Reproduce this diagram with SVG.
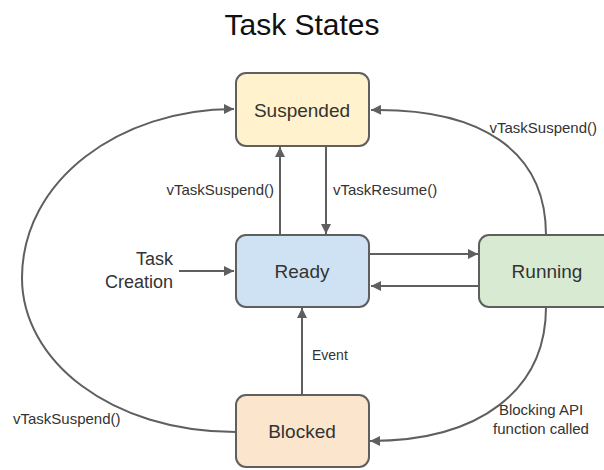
<svg xmlns="http://www.w3.org/2000/svg" width="604" height="470" viewBox="0 0 604 470">
<style>
.box{stroke:#5f5f5f;stroke-width:2}
.nt{font-family:"Liberation Sans",Arial,sans-serif;font-size:19px;fill:#333;text-anchor:middle}
.lb{font-family:"Liberation Sans",Arial,sans-serif;font-size:15px;fill:#333}
.big{font-size:18px}
.sm{font-size:14px}
.edge{fill:none;stroke:#5f5f5f;stroke-width:2}
</style>
<defs>
<marker id="ah" viewBox="0 0 10 10" refX="10" refY="5" markerWidth="11" markerHeight="10" markerUnits="userSpaceOnUse" orient="auto">
<path d="M0,0 L10,5 L0,10 z" fill="#5f5f5f"/>
</marker>
</defs>
<rect width="604" height="470" fill="#fff"/>
<text x="302" y="35" font-family="'Liberation Sans',Arial,sans-serif" font-size="30" fill="#111" text-anchor="middle">Task States</text>
<g id="connectors">
<path class="edge" d="M280,235 V147" marker-end="url(#ah)"/>
<path class="edge" d="M326,146 V234" marker-end="url(#ah)"/>
<path class="edge" d="M179,271 H234" marker-end="url(#ah)"/>
<path class="edge" d="M370,254 H478" marker-end="url(#ah)"/>
<path class="edge" d="M479,286 H371" marker-end="url(#ah)"/>
<path class="edge" d="M302,395 V308" marker-end="url(#ah)"/>
<path class="edge" d="M236,432 C110,432 22,360 22,278 C22,180 120,109 234,109" marker-end="url(#ah)"/>
<path class="edge" d="M546,235 C546,150 480,108 371,110" marker-end="url(#ah)"/>
<path class="edge" d="M546,307 C546,390 480,441 370,441" marker-end="url(#ah)"/>
<text class="lb" x="274" y="195" text-anchor="end">vTaskSuspend()</text>
<text class="lb" x="333" y="195">vTaskResume()</text>
<text class="lb" x="597" y="133" text-anchor="end">vTaskSuspend()</text>
<text class="lb" x="13" y="424">vTaskSuspend()</text>
<text class="lb sm" x="312" y="360">Event</text>
<text class="lb" x="541" y="415" text-anchor="middle">Blocking API</text>
<text class="lb" x="541" y="434" text-anchor="middle">function called</text>
<text class="lb big" x="173" y="265" text-anchor="end">Task</text>
<text class="lb big" x="173" y="288" text-anchor="end">Creation</text>
</g>
<g id="suspended">
<rect class="box" x="236" y="73" width="133" height="73" rx="10" fill="#fff2cc"/>
<text class="nt" x="302" y="117">Suspended</text>
</g>
<g id="ready">
<rect class="box" x="236" y="235" width="133" height="72" rx="10" fill="#cfe2f3"/>
<text class="nt" x="302" y="278">Ready</text>
</g>
<g id="running">
<rect class="box" x="479" y="235" width="135" height="72" rx="10" fill="#d9ead3"/>
<text class="nt" x="547" y="278">Running</text>
</g>
<g id="blocked">
<rect class="box" x="236" y="395" width="133" height="72" rx="10" fill="#fce5cd"/>
<text class="nt" x="302" y="438">Blocked</text>
</g>
</svg>
